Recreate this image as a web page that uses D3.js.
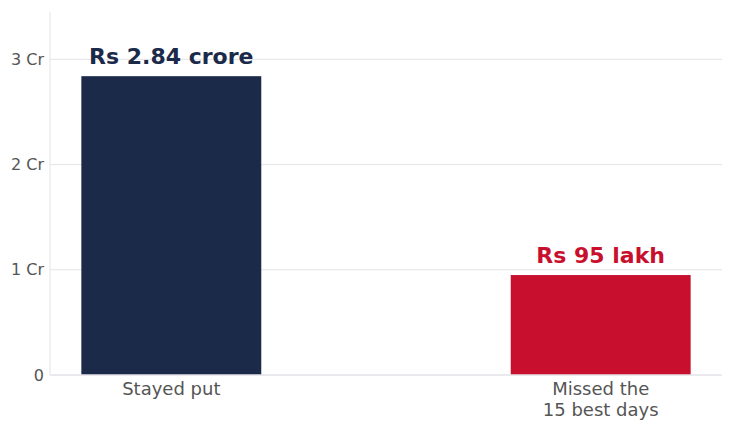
<!DOCTYPE html>
<html><head><meta charset="utf-8">
<script src="https://cdn.jsdelivr.net/npm/d3@7"></script>
<style>body{margin:0;background:#fff;}svg{display:block;font-family:"DejaVu Sans",sans-serif;}</style>
</head><body>
<script>
const categories = ["Stayed put", "Missed the\n15 best days"];
const values = [2.84, 0.95];
const valueLabels = ["Rs 2.84 crore", "Rs 95 lakh"];
const colors = ["#1c2a4a", "#c8102e"];
const yTicks = [0, 1, 2, 3];
const yTickLabels = ["0", "1 Cr", "2 Cr", "3 Cr"];

const W = 734, H = 431;
const m = {left: 50, right: 12, top: 12, bottom: 56};
const svg = d3.select("body").append("svg").attr("width", W).attr("height", H);
const x = d3.scaleBand().domain(categories).range([m.left, W - m.right]).paddingInner(0.581).paddingOuter(0.073);
const y = d3.scaleLinear().domain([0, 3.45]).range([H - m.bottom, m.top]);

// gridlines
svg.append("g").selectAll("line").data(yTicks.filter(d => d > 0)).join("line")
  .attr("x1", m.left).attr("x2", W - m.right)
  .attr("y1", d => y(d)).attr("y2", d => y(d))
  .attr("stroke", "#e3e3e8").attr("stroke-width", 1);

// left axis line
svg.append("line").attr("x1", m.left).attr("x2", m.left).attr("y1", m.top).attr("y2", y(0))
  .attr("stroke", "#e3e3e8").attr("stroke-width", 1);

// tick labels
svg.append("g").selectAll("text").data(yTicks).join("text")
  .attr("x", m.left - 6).attr("y", d => y(d)).attr("dy", "0.35em")
  .attr("text-anchor", "end").attr("font-size", 16).attr("fill", "#555")
  .text((d, i) => yTickLabels[i]);

// bars
svg.append("g").selectAll("rect").data(categories).join("rect")
  .attr("x", d => x(d)).attr("width", x.bandwidth())
  .attr("y", (d, i) => y(values[i])).attr("height", (d, i) => y(0) - y(values[i]))
  .attr("fill", (d, i) => colors[i]);

// baseline
svg.append("line").attr("x1", m.left).attr("x2", W - m.right).attr("y1", y(0)).attr("y2", y(0))
  .attr("stroke", "#e3e3e8").attr("stroke-width", 1.5);

// value labels
svg.append("g").selectAll("text").data(categories).join("text")
  .attr("x", d => x(d) + x.bandwidth() / 2).attr("y", (d, i) => y(values[i]) - 12)
  .attr("text-anchor", "middle").attr("font-size", 22).attr("font-weight", "bold")
  .attr("fill", (d, i) => colors[i])
  .text((d, i) => valueLabels[i]);

// category labels
const cl = svg.append("g").selectAll("text").data(categories).join("text")
  .attr("text-anchor", "middle").attr("font-size", 18).attr("fill", "#555")
  .attr("transform", d => `translate(${x(d) + x.bandwidth() / 2},${y(0) + 20})`);
cl.selectAll("tspan").data(d => d.split("\n")).join("tspan")
  .attr("x", 0).attr("dy", (d, i) => i === 0 ? 0 : 21).text(d => d);
</script>
</body></html>
